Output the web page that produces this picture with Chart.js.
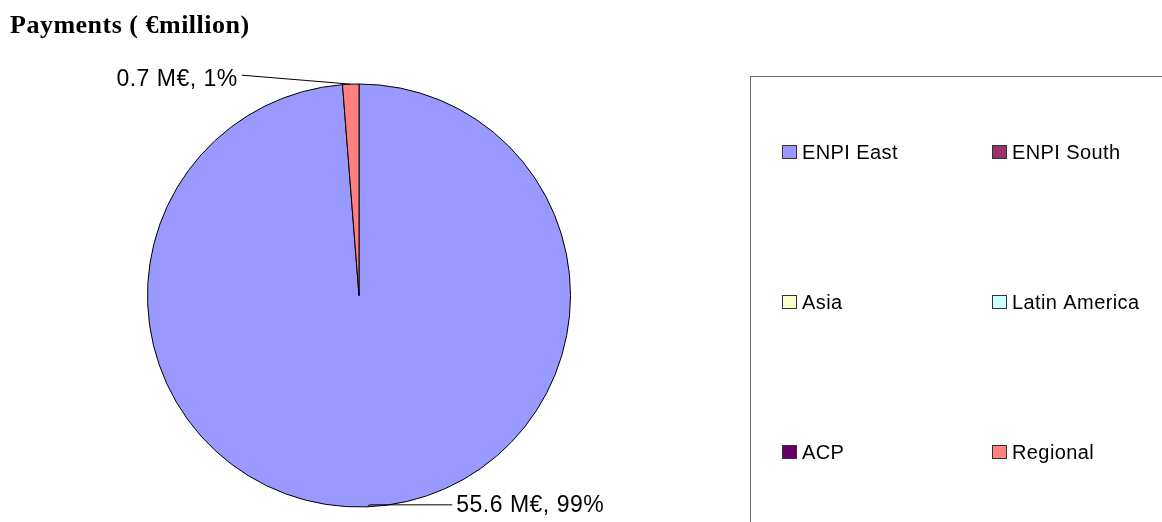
<!DOCTYPE html>
<html>
<head>
<meta charset="utf-8">
<script src="https://cdn.jsdelivr.net/npm/chart.js@4/dist/chart.umd.min.js"></script>
<style>
    html, body { margin: 0; padding: 0; background: #ffffff; }
    #wrap { width: 1162px; height: 522px; position: relative; }
</style>
</head>
<body>
<div id="wrap"><canvas id="payments-chart" width="1162" height="522"></canvas></div>
<script>
const regions = ['ENPI East', 'ENPI South', 'Asia', 'Latin America', 'ACP', 'Regional'];
const payments = [55.6, 0, 0, 0, 0, 0.7];
const regionColors = ['#9999ff', '#993366', '#ffffcc', '#ccffff', '#660066', '#ff8080'];
const chartTitle = 'Payments ( \u20acmillion)';

(function () {
    const canvas = document.getElementById('payments-chart');
    if (!canvas || typeof window.Chart === 'undefined') {
        return;
    }

    const total = payments.reduce((sum, value) => sum + value, 0);

    // title drawn top-left, outside the pie area
    const titlePlugin = {
        id: 'plainTitle',
        afterDraw(chart) {
            const ctx = chart.ctx;
            ctx.save();
            ctx.font = 'bold 26px "Liberation Serif", "Times New Roman", serif';
            ctx.letterSpacing = '0.5px';
            ctx.fillStyle = '#000000';
            ctx.textAlign = 'left';
            ctx.textBaseline = 'alphabetic';
            ctx.fillText(chartTitle, 10, 33);
            ctx.restore();
        },
    };

    // value labels with leader lines from each slice's outer edge
    const leaderLabels = {
        id: 'leaderLabels',
        afterDatasetsDraw(chart) {
            const ctx = chart.ctx;
            const meta = chart.getDatasetMeta(0);
            ctx.save();
            ctx.font = '23px "Liberation Sans", Arial, sans-serif';
            ctx.letterSpacing = '0.5px';
            ctx.fillStyle = '#000000';
            ctx.strokeStyle = '#000000';
            ctx.lineWidth = 1;
            ctx.textBaseline = 'middle';
            meta.data.forEach((arc, index) => {
                const value = payments[index];
                if (!value) {
                    return;
                }
                const props = arc.getProps(['x', 'y', 'startAngle', 'endAngle', 'outerRadius'], true);
                const mid = (props.startAngle + props.endAngle) / 2;
                const px = props.x + Math.cos(mid) * props.outerRadius;
                const py = props.y + Math.sin(mid) * props.outerRadius;
                const pct = Math.round((value / total) * 100);
                const text = `${value.toFixed(1)} M\u20ac, ${pct}%`;
                let lx;
                let ly;
                if (py < props.y) {
                    lx = px - 109;
                    ly = py - 9;
                    ctx.textAlign = 'right';
                    ctx.fillText(text, lx - 4, ly + 4);
                    ctx.beginPath();
                    ctx.moveTo(px, py);
                    ctx.lineTo(lx, ly);
                    ctx.stroke();
                } else {
                    lx = px + 85;
                    ly = py - 2;
                    ctx.textAlign = 'left';
                    ctx.fillText(text, lx + 4, ly + 1);
                    ctx.beginPath();
                    ctx.moveTo(px, py);
                    ctx.lineTo(px + 2, ly);
                    ctx.lineTo(lx, ly);
                    ctx.stroke();
                }
            });
            ctx.restore();
        },
    };

    // boxed two-column legend on the right
    const boxLegend = {
        id: 'boxLegend',
        afterDraw(chart) {
            const ctx = chart.ctx;
            const labels = chart.data.labels;
            const colors = chart.data.datasets[0].backgroundColor;
            ctx.save();
            ctx.strokeStyle = '#6e6e6e';
            ctx.lineWidth = 1;
            ctx.strokeRect(750.5, 76.5, 500, 500);
            ctx.font = '20px "Liberation Sans", Arial, sans-serif';
            ctx.letterSpacing = '0.4px';
            ctx.textBaseline = 'middle';
            ctx.textAlign = 'left';
            labels.forEach((label, index) => {
                const col = index % 2;
                const row = Math.floor(index / 2);
                const x = 782 + col * 210;
                const y = 152 + row * 150;
                ctx.fillStyle = colors[index];
                ctx.fillRect(x + 0.5, y - 6.5, 14, 13);
                ctx.strokeStyle = '#333333';
                ctx.strokeRect(x + 0.5, y - 6.5, 14, 13);
                ctx.fillStyle = '#000000';
                ctx.fillText(label, x + 20, y + 1);
            });
            ctx.restore();
        },
    };

    new Chart(canvas, {
        type: 'pie',
        data: {
            labels: regions,
            datasets: [
                {
                    data: payments,
                    backgroundColor: regionColors,
                    borderColor: '#000000',
                    borderWidth: 1,
                },
            ],
        },
        options: {
            responsive: false,
            animation: false,
            layout: {
                padding: {
                    left: 147,
                    right: 591,
                    top: 83,
                    bottom: 14,
                },
            },
            plugins: {
                legend: {
                    display: false,
                },
                tooltip: {
                    enabled: false,
                },
            },
        },
        plugins: [titlePlugin, leaderLabels, boxLegend],
    });
})();
</script>
</body>
</html>
